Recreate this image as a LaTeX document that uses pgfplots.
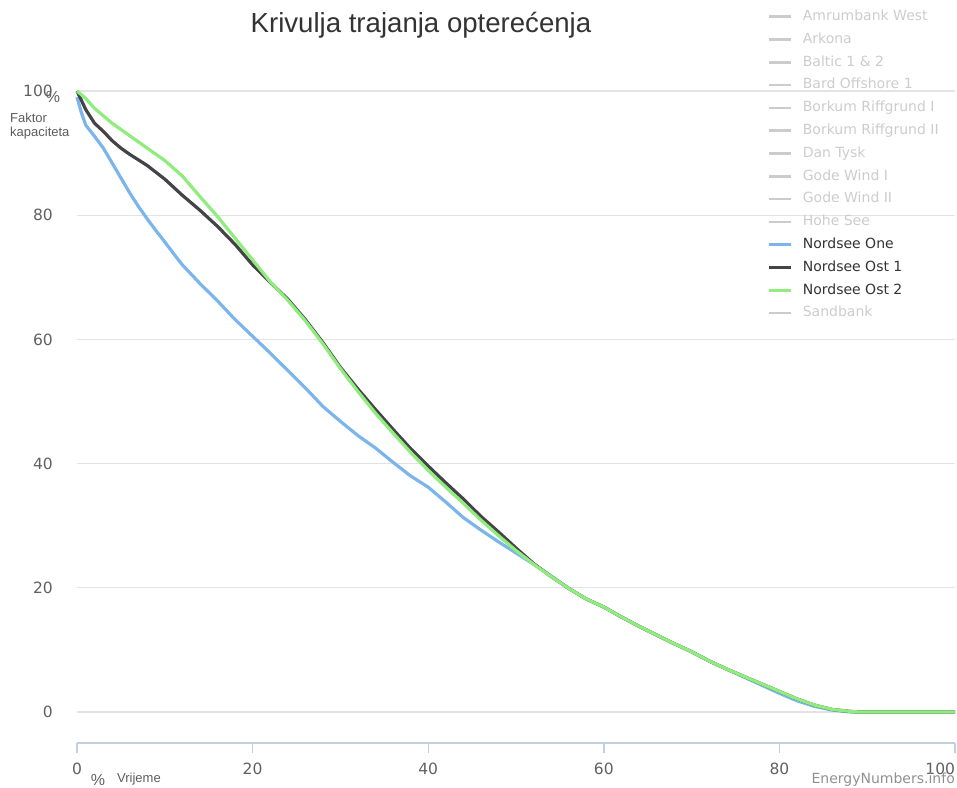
\documentclass[border=0pt]{standalone}
\usepackage{pgfplots}
\pgfplotsset{compat=1.18}
\usepackage{fontspec}
\setmainfont{DejaVu Sans}
\newfontfamily\arial{Liberation Sans}
\definecolor{hcblue}{HTML}{7CB5EC}
\definecolor{hcblack}{HTML}{434348}
\definecolor{hcgreen}{HTML}{90ED7D}
\definecolor{gridc}{HTML}{E3E3E3}
\definecolor{axisc}{HTML}{C0D0E0}
\definecolor{hidc}{HTML}{CCCCCC}
\definecolor{labc}{HTML}{606060}
\definecolor{titc}{HTML}{333333}
\definecolor{wmc}{HTML}{909090}

\begin{document}
\begin{tikzpicture}
\useasboundingbox (0,0) rectangle (957pt,787pt);
\begin{axis}[
  at={(77pt,44pt)}, anchor=south west,
  width=878pt, height=652pt, scale only axis,
  xmin=0, xmax=100, ymin=-5, ymax=100,
  clip=false,
  axis x line*=bottom, axis y line*=left,
  x axis line style={draw=axisc, line width=1.4pt, -},
  y axis line style={draw=none, -},
  xtick={0,20,...,100}, ytick={0,20,...,100},
  xticklabels={0,20,40,60,80,{\makebox[0pt][r]{100}}},
  tick align=outside, major tick length=10pt,
  xtick style={draw=axisc, line width=1.4pt},
  ytick style={draw=none},
  ymajorgrids, grid style={draw=gridc, line width=1.2pt},
  /pgf/number format/assume math mode=true,
  ticklabel style={font=\fontsize{15.5}{18}\selectfont, text=labc},
  xticklabel style={anchor=north, inner sep=0pt, yshift=-9.5pt},
  yticklabel style={anchor=east, inner sep=0pt, xshift=-14pt},
  legend style={at={(0.7859,1.1317)}, anchor=north west, draw=none, fill=none,
    font=\fontsize{14}{16}\selectfont, inner sep=0pt, row sep=0pt, column sep=0pt,
    nodes={inner xsep=0pt, inner ysep=0pt, minimum height=22.8pt, text height=10.5pt, text depth=3pt},
    /tikz/every odd column/.append style={column sep=11pt}},
  legend cell align=left,
  legend image code/.code={\draw[#1,line width=2.6pt] (0pt,0pt) -- (22pt,0pt);},
]
\addlegendimage{hidc}\addlegendentry{\textcolor{hidc}{Amrumbank West}}
\addlegendimage{hidc}\addlegendentry{\textcolor{hidc}{Arkona}}
\addlegendimage{hidc}\addlegendentry{\textcolor{hidc}{Baltic 1 \& 2}}
\addlegendimage{hidc}\addlegendentry{\textcolor{hidc}{Bard Offshore 1}}
\addlegendimage{hidc}\addlegendentry{\textcolor{hidc}{Borkum Riffgrund I}}
\addlegendimage{hidc}\addlegendentry{\textcolor{hidc}{Borkum Riffgrund II}}
\addlegendimage{hidc}\addlegendentry{\textcolor{hidc}{Dan Tysk}}
\addlegendimage{hidc}\addlegendentry{\textcolor{hidc}{Gode Wind I}}
\addlegendimage{hidc}\addlegendentry{\textcolor{hidc}{Gode Wind II}}
\addlegendimage{hidc}\addlegendentry{\textcolor{hidc}{Hohe See}}

\addplot[hcblue, line width=3.2pt, line join=round] coordinates {
(0,99) (0.5,96.5) (1,94.5) (2,92.7) (3,90.8) (4,88.4) (5,86) (6,83.6) (7,81.4)
(8,79.4) (9,77.5) (10,75.7) (11,73.8) (12,72) (14,69) (16,66.2) (18,63.2)
(20,60.5) (22,57.8) (24,55) (26,52.2) (28,49.2) (30,46.8) (32,44.5) (34,42.5)
(36,40.2) (38,38) (40,36.2) (42,33.8) (44,31.3) (46,29.3) (48,27.4) (50,25.6)
(52,23.8) (54,21.9) (56,19.9) (58,18.2) (60,16.9) (62,15.3) (64,13.8) (66,12.4)
(68,11) (70,9.7) (72,8.2) (74,6.9) (76,5.6) (78,4.3) (80,3.0) (82,1.8) (84,0.9)
(86,0.3) (88,0) (90,0) (100,0)
};
\addlegendentry{\textcolor{titc}{Nordsee One}}

\addplot[hcblack, line width=3.2pt, line join=round] coordinates {
(0,100) (1,97) (2,94.8) (3,93.5) (4,92) (5,90.8) (6,89.8) (8,88) (10,85.8)
(12,83.2) (14,80.8) (16,78.2) (18,75.3) (20,72) (22,69.2) (24,66.5) (26,63.2)
(28,59.5) (30,55.5) (32,52) (34,48.7) (36,45.5) (38,42.4) (40,39.6) (42,36.9)
(44,34.3) (46,31.5) (48,29) (50,26.4) (52,23.9) (54,21.8) (56,19.9) (58,18.2)
(60,16.9) (62,15.3) (64,13.8) (66,12.4) (68,11) (70,9.7) (72,8.2) (74,6.9)
(76,5.7) (78,4.5) (80,3.3) (82,2.1) (84,1.1) (86,0.4) (88,0.1) (89,0) (100,0)
};
\addlegendentry{\textcolor{titc}{Nordsee Ost 1}}

\addplot[hcgreen, line width=3.2pt, line join=round] coordinates {
(0,100) (1,98.8) (2,97.2) (3,96) (4,94.8) (5,93.8) (6,92.8) (7,91.8) (8,90.8)
(9,89.8) (10,88.8) (12,86.3) (14,83) (16,79.8) (18,76.3) (20,72.8) (22,69.3)
(24,66.3) (26,63) (28,59.3) (30,55.3) (32,51.6) (34,48.1) (36,44.9) (38,41.8)
(40,38.9) (42,36.2) (44,33.6) (46,30.9) (48,28.4) (50,26) (52,23.8) (54,21.8)
(56,19.9) (58,18.2) (60,16.9) (62,15.3) (64,13.8) (66,12.4) (68,11) (70,9.7)
(72,8.2) (74,6.9) (76,5.7) (78,4.5) (80,3.3) (82,2.1) (84,1.1) (86,0.4)
(88,0.1) (89,0) (100,0)
};
\addlegendentry{\textcolor{titc}{Nordsee Ost 2}}

\addlegendimage{hidc}\addlegendentry{\textcolor{hidc}{Sandbank}}
\end{axis}

\node[anchor=base, font=\arial\fontsize{27.6}{32}\selectfont, text=titc] at (421pt,754pt) {Krivulja trajanja opterećenja};
\node[anchor=center, font=\arial\fontsize{16}{18}\selectfont, text=labc, inner sep=0pt] at (53pt,690pt) {\%};
\node[anchor=base west, font=\arial\fontsize{13}{15}\selectfont, text=titc!80!white, inner sep=0pt] at (10pt,664pt) {Faktor};
\node[anchor=base west, font=\arial\fontsize{13}{15}\selectfont, text=titc!80!white, inner sep=0pt] at (10pt,650pt) {kapaciteta};
\node[anchor=center, font=\arial\fontsize{16}{18}\selectfont, text=labc, inner sep=0pt] at (98pt,7pt) {\%};
\node[anchor=base west, font=\arial\fontsize{13}{15}\selectfont, text=titc!80!white, inner sep=0pt] at (117pt,5pt) {Vrijeme};
\node[anchor=base east, font=\fontsize{14}{16}\selectfont, text=wmc, inner sep=0pt] at (955pt,4pt) {EnergyNumbers.info};
\end{tikzpicture}
\end{document}
